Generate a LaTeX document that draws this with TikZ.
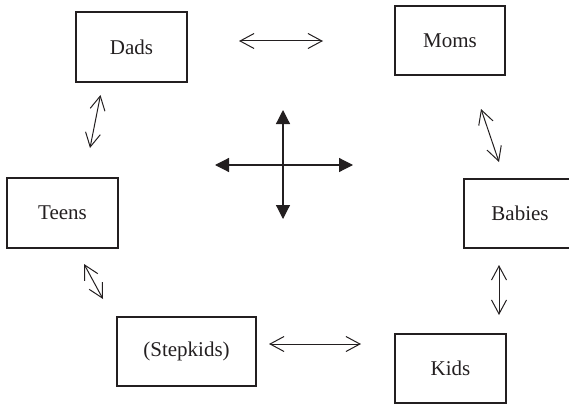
\documentclass[tikz,border=0pt]{standalone}
\usepackage{fontspec}
\setmainfont{Liberation Serif}
\usetikzlibrary{arrows.meta}
\definecolor{ink}{HTML}{231F20}
\tikzset{
  box/.style={draw=ink, line width=1.2pt, rectangle, inner sep=0pt, text=ink,
    font=\fontsize{21}{25}\selectfont},
  link/.style={draw=ink, line width=1pt, {Straight Barb[length=14pt,width=15pt,line width=1pt]}-{Straight Barb[length=14pt,width=15pt,line width=1pt]}},
  bold/.style={draw=ink, line width=1.2pt, -{Triangle[length=14pt,width=14pt]}}
}
\begin{document}
\begin{tikzpicture}[x=1pt,y=-1pt]
\clip (0,0) rectangle (569,404);
\useasboundingbox (0,0) rectangle (569,404);
\node[box, minimum width=111pt, minimum height=70pt] (dads) at (131.5,47) {Dads};
\node[box, minimum width=110pt, minimum height=69pt] (moms) at (450,40.5) {Moms};
\node[box, minimum width=111pt, minimum height=70pt] (teens) at (62.5,213) {Teens};
\node[box, minimum width=112pt, minimum height=69pt] (babies) at (520,213.5) {Babies};
\node[box, minimum width=139pt, minimum height=69pt] (step) at (186.5,351.5) {(Stepkids)};
\node[box, minimum width=111pt, minimum height=69pt] (kids) at (450.5,368.5) {Kids};
% double arrows
\coordinate (dm1) at (239,41); \coordinate (dm2) at (323,41);
\draw[link] (dm1) -- (dm2);
\coordinate (sk1) at (269,344); \coordinate (sk2) at (361,344);
\draw[link] (sk1) -- (sk2);
\coordinate (dt1) at (100.5,95); \coordinate (dt2) at (90,148);
\draw[link] (dt1) -- (dt2);
\coordinate (mb1) at (481,109); \coordinate (mb2) at (499,162);
\draw[link] (mb1) -- (mb2);
\coordinate (bk1) at (499,265); \coordinate (bk2) at (499,315);
\draw[link] (bk1) -- (bk2);
\coordinate (ts1) at (84,264); \coordinate (ts2) at (103,299);
\draw[link] (ts1) -- (ts2);
% central cross
\coordinate (cc) at (283,165);
\coordinate (cn) at (283,110); \coordinate (cs) at (283,219);
\coordinate (cw) at (215,165); \coordinate (ce) at (353,165);
\draw[bold] (cc) -- (cn);
\draw[bold] (cc) -- (cs);
\draw[bold] (cc) -- (cw);
\draw[bold] (cc) -- (ce);
\end{tikzpicture}
\end{document}
